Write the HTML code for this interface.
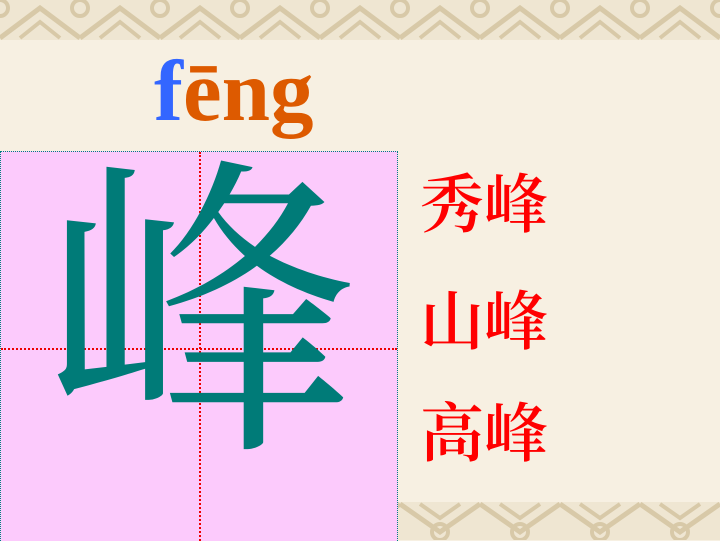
<!DOCTYPE html>
<html><head><meta charset="utf-8">
<style>
body{margin:0;width:720px;height:540px;overflow:hidden;background:#f7f0e2;position:relative;font-family:"Liberation Serif","Noto Serif CJK SC",serif}
.border{position:absolute;left:0;width:720px;height:40px;background:#efe6d2}
.border svg{display:block}
#box{position:absolute;left:0;top:151px;width:396px;height:389px;background:#fccafc;border-top:1px dotted #008080;border-right:1px dotted #008080;border-left:1px dotted #008080}
.vl{position:absolute;left:198px;top:0;height:389px;border-left:2px dotted #e00}
.hl{position:absolute;top:196px;left:0;width:396px;border-top:2px dotted #e00}
#big{position:absolute;left:44px;top:132px;font-size:314px;color:#007b78;line-height:1;font-family:"Noto Serif CJK SC",serif}
#py{position:absolute;left:154px;top:47px;font-size:87px;font-weight:bold;line-height:1}
.w{position:absolute;left:420px;font-size:64px;color:#f00;line-height:1;font-family:"Noto Serif CJK SC",serif;font-weight:600}
</style></head><body>
<div class="border" style="top:0">
<svg width="720" height="40"><defs><pattern id="p" width="80" height="40" patternUnits="userSpaceOnUse"><path d="M0 38 L40 8 L80 38" fill="none" stroke="#d8c9a8" stroke-width="5"/><path d="M20 38 L40 22 L60 38" fill="none" stroke="#d8c9a8" stroke-width="4"/><circle cx="0" cy="8" r="8" fill="none" stroke="#d8c9a8" stroke-width="4"/><circle cx="80" cy="8" r="8" fill="none" stroke="#d8c9a8" stroke-width="4"/></pattern></defs><rect width="720" height="40" fill="url(#p)"/></svg></div>
<div class="border" style="top:502px;height:38px">
<svg width="720" height="38"><defs><pattern id="q" width="80" height="38" patternUnits="userSpaceOnUse"><path d="M0 2 L40 30 L80 2" fill="none" stroke="#d8c9a8" stroke-width="5"/><path d="M20 2 L40 16 L60 2" fill="none" stroke="#d8c9a8" stroke-width="4"/><circle cx="40" cy="30" r="8" fill="none" stroke="#d8c9a8" stroke-width="4"/></pattern></defs><rect width="720" height="38" fill="url(#q)"/></svg></div>
<div id="py"><span style="color:#3366ff">f</span><span style="color:#dd5a00">ēng</span></div>
<div id="box"><div class="vl"></div><div class="hl"></div></div>
<div id="big">峰</div>
<div class="w" style="top:168px">秀峰</div>
<div class="w" style="top:285px">山峰</div>
<div class="w" style="top:397px">高峰</div>
</body></html>
